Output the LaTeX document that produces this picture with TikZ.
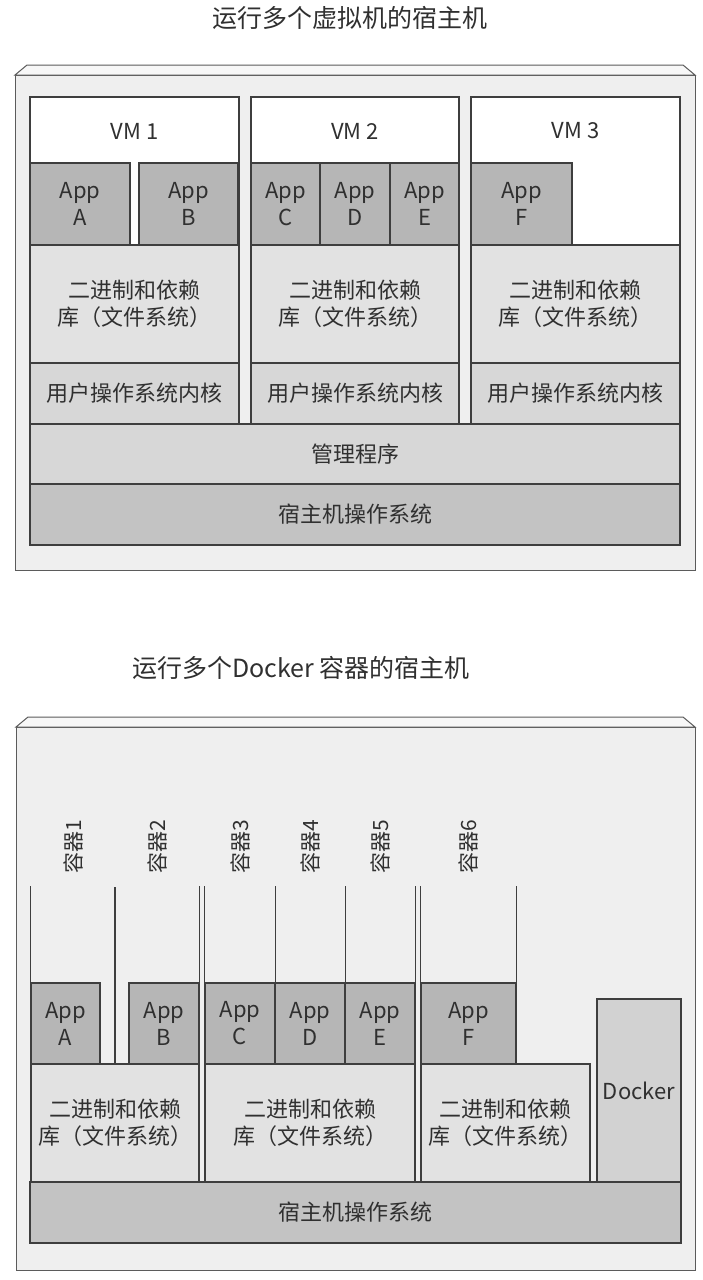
\documentclass[tikz,border=0pt]{standalone}
\usepackage{fontspec}
\setmainfont{Noto Sans CJK SC}
\usepackage{xcolor}
\usepackage{tikz}

\definecolor{framefill}{HTML}{EFEFEF}
\definecolor{appgray}{HTML}{B6B6B6}
\definecolor{bingray}{HTML}{E2E2E2}
\definecolor{kernelgray}{HTML}{D7D7D7}
\definecolor{hostgray}{HTML}{C3C3C3}
\definecolor{dockergray}{HTML}{D2D2D2}
\definecolor{linegray}{HTML}{3E3E3E}
\definecolor{textgray}{HTML}{303030}

\begin{document}
\begin{tikzpicture}[
  x=1pt, y=-1pt,
  block/.style={draw=linegray, line width=1.2pt, fill=#1, inner sep=0pt,
                font=\fontsize{22}{27}\selectfont, text=textgray, align=center},
  frame/.style={draw=linegray!85, line width=1pt, fill=framefill},
  wall/.style={draw=linegray, line width=1.2pt},
  title/.style={font=\fontsize{25}{30}\selectfont, text=textgray},
  tag/.style={font=\fontsize{21}{24}\selectfont, text=textgray, rotate=90}
]
  \useasboundingbox (0,0) rectangle (702,1280);

  % Virtual machines
  \node[title] (vmtitle) at (350,18) {运行多个虚拟机的宿主机};
  \draw[frame] (15,75) rectangle (695,570);
  \draw[frame, fill=white!50!framefill] (15,75) -- (27,65) -- (683,65) -- (695,75) -- cycle;

  \node[block=white, minimum width=209pt, minimum height=148pt] (vmone) at (134.5,171) {};
  \node[block=white, minimum width=208pt, minimum height=148pt] (vmtwo) at (355,171) {};
  \node[block=white, minimum width=209pt, minimum height=148pt] (vmthree) at (575.5,171) {};
  \node[font=\fontsize{22}{27}\selectfont, text=textgray] (vmlabelone) at (134.5,131) {VM 1};
  \node[font=\fontsize{22}{27}\selectfont, text=textgray] (vmlabeltwo) at (355,131) {VM 2};
  \node[font=\fontsize{22}{27}\selectfont, text=textgray] (vmlabelthree) at (575.5,131) {VM 3};

  \node[block=appgray, minimum width=100pt, minimum height=82pt] (vmappA) at (80,204) {App\\A};
  \node[block=appgray, minimum width=99pt, minimum height=82pt] (vmappB) at (188.5,204) {App\\B};
  \node[block=appgray, minimum width=69pt, minimum height=82pt] (vmappC) at (285.5,204) {App\\C};
  \node[block=appgray, minimum width=70pt, minimum height=82pt] (vmappD) at (355,204) {App\\D};
  \node[block=appgray, minimum width=69pt, minimum height=82pt] (vmappE) at (424.5,204) {App\\E};
  \node[block=appgray, minimum width=101pt, minimum height=82pt] (vmappF) at (521.5,204) {App\\F};

  \node[block=bingray, minimum width=209pt, minimum height=118pt] (vmbinone) at (134.5,304) {二进制和依赖\\库（文件系统）};
  \node[block=bingray, minimum width=208pt, minimum height=118pt] (vmbintwo) at (355,304) {二进制和依赖\\库（文件系统）};
  \node[block=bingray, minimum width=209pt, minimum height=118pt] (vmbinthree) at (575.5,304) {二进制和依赖\\库（文件系统）};

  \node[block=kernelgray, minimum width=209pt, minimum height=61pt] (kernelone) at (134.5,393.5) {用户操作系统内核};
  \node[block=kernelgray, minimum width=208pt, minimum height=61pt] (kerneltwo) at (355,393.5) {用户操作系统内核};
  \node[block=kernelgray, minimum width=209pt, minimum height=61pt] (kernelthree) at (575.5,393.5) {用户操作系统内核};

  \node[block=kernelgray, minimum width=650pt, minimum height=60pt] (hypervisor) at (355,454) {管理程序};
  \node[block=hostgray, minimum width=650pt, minimum height=61pt] (vmhostos) at (355,514.5) {宿主机操作系统};

  % Docker containers
  \node[title] (dockertitle) at (301,668) {运行多个Docker 容器的宿主机};
  \draw[frame] (16,727) rectangle (695,1270);
  \draw[frame, fill=white!50!framefill] (16,727) -- (28,717) -- (683,717) -- (695,727) -- cycle;

  \node[block=hostgray, minimum width=651pt, minimum height=61pt] (hostos) at (355.5,1212.5) {宿主机操作系统};

  \node[block=bingray, minimum width=168pt, minimum height=118pt] (binone) at (115,1123) {二进制和依赖\\库（文件系统）};
  \node[block=bingray, minimum width=210pt, minimum height=118pt] (bintwo) at (310,1123) {二进制和依赖\\库（文件系统）};
  \node[block=bingray, minimum width=169pt, minimum height=118pt] (binthree) at (505.5,1123) {二进制和依赖\\库（文件系统）};
  \node[block=dockergray, minimum width=84pt, minimum height=183pt] (docker) at (639,1090.5) {Docker};

  \node[block=appgray, minimum width=69pt, minimum height=81pt] (appA) at (65.5,1023.5) {App\\A};
  \node[block=appgray, minimum width=70pt, minimum height=81pt] (appB) at (164,1023.5) {App\\B};
  \node[block=appgray, minimum width=70pt, minimum height=81pt] (appC) at (240,1023.5) {App\\C};
  \node[block=appgray, minimum width=70pt, minimum height=81pt] (appD) at (310,1023.5) {App\\D};
  \node[block=appgray, minimum width=70pt, minimum height=81pt] (appE) at (380,1023.5) {App\\E};
  \node[block=appgray, minimum width=95pt, minimum height=81pt] (appF) at (468.5,1023.5) {App\\F};

  % Container walls
  \coordinate (walltwo) at (115,1064);
  \draw[wall] (appA.north west) -- ++(0,-96);
  \draw[wall] (walltwo) -- ++(0,-177);
  \draw[wall] (appB.north east) -- ++(0,-96);
  \draw[wall] (appC.north west) -- ++(0,-96);
  \draw[wall] (appC.north east) -- ++(0,-96);
  \draw[wall] (appD.north east) -- ++(0,-96);
  \draw[wall] (appE.north east) -- ++(0,-96);
  \draw[wall] (appF.north west) -- ++(0,-96);
  \draw[wall] (appF.north east) -- ++(0,-96);

  % Container names
  \node[tag] (tagone) at (73,847) {容器1};
  \node[tag] (tagtwo) at (157,847) {容器2};
  \node[tag] (tagthree) at (240,847) {容器3};
  \node[tag] (tagfour) at (310,847) {容器4};
  \node[tag] (tagfive) at (380,847) {容器5};
  \node[tag] (tagsix) at (468.5,847) {容器6};
\end{tikzpicture}
\end{document}
